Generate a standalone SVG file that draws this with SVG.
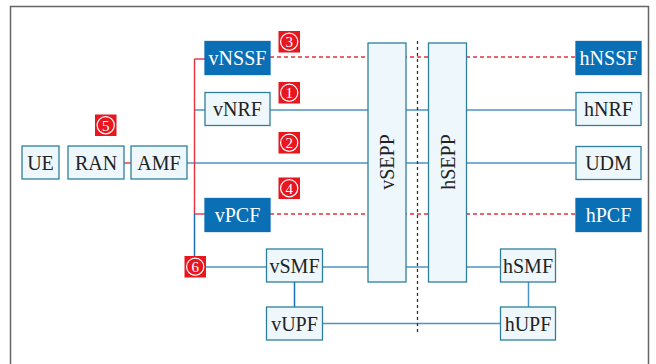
<svg xmlns="http://www.w3.org/2000/svg" width="656" height="364" viewBox="0 0 656 364">
  <style>
    .nf { fill: #eef7fc; stroke: #2f7f9c; stroke-width: 1.3; }
    .nd { fill: #0a6fb5; stroke: #0a6fb5; stroke-width: 1.3; }
    .t { font-family: "Liberation Serif", "DejaVu Serif", serif; font-size: 20px; fill: #222; text-anchor: middle; dominant-baseline: central; }
    .tw { fill: #ffffff; }
    .ln { fill: none; stroke: #4f93c5; stroke-width: 1.5; }
    .lnd { fill: none; stroke: #1b6fb8; stroke-width: 1.5; }
    .rd { fill: none; stroke: #e8303a; stroke-width: 1.4; }
    .rdd { fill: none; stroke: #e8303a; stroke-width: 1.3; stroke-dasharray: 4 3; }
    .sep { fill: none; stroke: #333; stroke-width: 1.3; stroke-dasharray: 3 3; }
    .bg { fill: #e8161f; }
    .bc { fill: none; stroke: #ffffff; stroke-width: 1.2; }
    .bt { font-family: "Liberation Serif", "DejaVu Serif", serif; font-size: 15px; fill: #ffffff; text-anchor: middle; dominant-baseline: central; }
  </style>

  <!-- outer frame -->
  <path d="M10.5 364 V6.5 H648.5 V364" fill="none" stroke="#666" stroke-width="1.5"/>

  <!-- connectors -->
  <g id="connectors">
    <!-- NSSF / PCF roaming paths (dashed, behind SEPPs) -->
    <line class="rdd" x1="270" y1="57" x2="576" y2="57"/>
    <line class="rdd" x1="270" y1="214" x2="576" y2="214"/>
    <!-- NRF, AMF-UDM, SMF, UPF paths -->
    <line class="ln" x1="270" y1="110" x2="576" y2="110"/>
    <line class="ln" x1="187" y1="163" x2="576" y2="163"/>
    <line class="ln" x1="206" y1="267" x2="500" y2="267"/>
    <line class="ln" x1="322" y1="323.5" x2="500" y2="323.5"/>
    <!-- AMF side branches -->
    <line class="ln" x1="194.5" y1="110" x2="205" y2="110"/>
    <line class="rd" x1="194.5" y1="59" x2="194.5" y2="214"/>
    <line class="rd" x1="194.5" y1="59" x2="205" y2="59"/>
    <line class="rd" x1="194.5" y1="214" x2="205" y2="214"/>
    <line class="lnd" x1="194.5" y1="214" x2="194.5" y2="256"/>
    <line class="rd" x1="124" y1="163" x2="131" y2="163"/>
    <!-- SMF-UPF links -->
    <line class="lnd" x1="294.5" y1="282" x2="294.5" y2="307"/>
    <line class="ln" x1="528.5" y1="282" x2="528.5" y2="307"/>
  </g>

  <!-- visited / home network boundary -->
  <line class="sep" x1="417.5" y1="41" x2="417.5" y2="332"/>

  <g id="UE"><rect class="nf" x="22" y="146" width="37" height="33"/><text class="t" x="40.5" y="163">UE</text></g>
  <g id="RAN"><rect class="nf" x="68" y="146" width="56" height="33"/><text class="t" x="96" y="163">RAN</text></g>
  <g id="AMF"><rect class="nf" x="131" y="146" width="56" height="33"/><text class="t" x="159" y="163">AMF</text></g>

  <g id="vNSSF"><rect class="nd" x="205" y="41.5" width="65" height="33"/><text class="t tw" x="237.5" y="58">vNSSF</text></g>
  <g id="vNRF"><rect class="nf" x="205" y="92.5" width="65" height="33"/><text class="t" x="237.5" y="109">vNRF</text></g>
  <g id="vPCF"><rect class="nd" x="205" y="198.5" width="65" height="33"/><text class="t tw" x="237.5" y="215">vPCF</text></g>
  <g id="vSMF"><rect class="nf" x="266.5" y="249" width="56" height="33"/><text class="t" x="294.5" y="265.5">vSMF</text></g>
  <g id="vUPF"><rect class="nf" x="266.5" y="307" width="56" height="33"/><text class="t" x="294.5" y="323.5">vUPF</text></g>

  <g id="vSEPP"><rect class="nf" x="368" y="43" width="38" height="239"/><text class="t" transform="translate(387 162) rotate(-90)">vSEPP</text></g>
  <g id="hSEPP"><rect class="nf" x="428.5" y="43" width="38" height="239"/><text class="t" transform="translate(447.5 162) rotate(-90)">hSEPP</text></g>

  <g id="hNSSF"><rect class="nd" x="576" y="41.5" width="65" height="33"/><text class="t tw" x="608.5" y="58">hNSSF</text></g>
  <g id="hNRF"><rect class="nf" x="576" y="92.5" width="65" height="33"/><text class="t" x="608.5" y="109">hNRF</text></g>
  <g id="UDM"><rect class="nf" x="576" y="146.5" width="65" height="33"/><text class="t" x="608.5" y="163">UDM</text></g>
  <g id="hPCF"><rect class="nd" x="576" y="198.5" width="65" height="33"/><text class="t tw" x="608.5" y="215">hPCF</text></g>
  <g id="hSMF"><rect class="nf" x="500.5" y="249" width="55" height="33"/><text class="t" x="528" y="265.5">hSMF</text></g>
  <g id="hUPF"><rect class="nf" x="500.5" y="307" width="55" height="33"/><text class="t" x="528" y="323.5">hUPF</text></g>

  <!-- step markers: red square, white ring, white digit -->
  <g id="step1"><rect class="bg" x="278.5" y="82" width="21.5" height="21.5"/><circle class="bc" cx="289.2" cy="92.7" r="8.6"/><text class="bt" x="289.2" y="93.2">1</text></g>
  <g id="step2"><rect class="bg" x="278.5" y="132" width="21.5" height="21.5"/><circle class="bc" cx="289.2" cy="142.7" r="8.6"/><text class="bt" x="289.2" y="143.2">2</text></g>
  <g id="step3"><rect class="bg" x="278.5" y="31" width="21.5" height="21.5"/><circle class="bc" cx="289.2" cy="41.7" r="8.6"/><text class="bt" x="289.2" y="42.2">3</text></g>
  <g id="step4"><rect class="bg" x="278.5" y="177.5" width="21.5" height="21.5"/><circle class="bc" cx="289.2" cy="188.2" r="8.6"/><text class="bt" x="289.2" y="188.7">4</text></g>
  <g id="step5"><rect class="bg" x="95" y="114.5" width="21.5" height="21.5"/><circle class="bc" cx="105.7" cy="125.2" r="8.6"/><text class="bt" x="105.7" y="125.7">5</text></g>
  <g id="step6"><rect class="bg" x="184.5" y="256" width="21.5" height="21.5"/><circle class="bc" cx="195.2" cy="266.7" r="8.6"/><text class="bt" x="195.2" y="267.2">6</text></g>
</svg>
